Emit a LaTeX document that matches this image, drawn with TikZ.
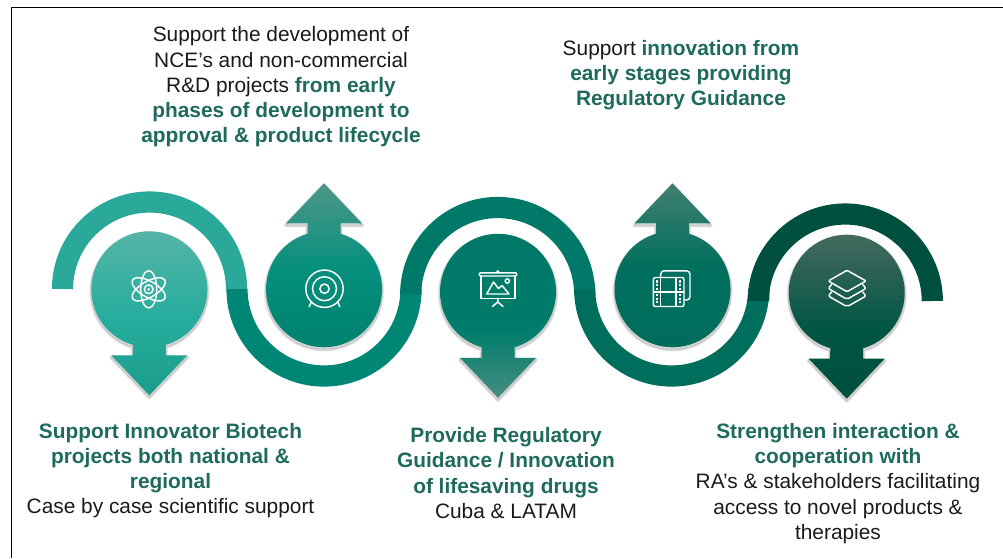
\documentclass[tikz,border=0pt]{standalone}
\usepackage{fontspec}
\setmainfont{Liberation Sans}
\definecolor{headgreen}{HTML}{1E6A5C}
\definecolor{bodyblack}{HTML}{1A1A1A}
\definecolor{arcA}{HTML}{2AA89A}
\definecolor{arcB}{HTML}{008674}
\definecolor{arcC}{HTML}{007969}
\definecolor{arcD}{HTML}{006E5D}
\definecolor{arcE}{HTML}{005040}
\definecolor{a1}{HTML}{1A9C8C}\definecolor{a2}{HTML}{27AD9E}\definecolor{a3}{HTML}{58B5A8}
\definecolor{b1}{HTML}{00806E}\definecolor{b2}{HTML}{05907D}\definecolor{b3}{HTML}{4E9688}
\definecolor{c1}{HTML}{468E81}\definecolor{c2}{HTML}{007C6B}\definecolor{c3}{HTML}{007766}
\definecolor{d1}{HTML}{006D5C}\definecolor{d2}{HTML}{006F5D}\definecolor{d3}{HTML}{417F72}
\definecolor{e1}{HTML}{004F3F}\definecolor{e2}{HTML}{005543}\definecolor{e3}{HTML}{4A6B61}
\pgfdeclareverticalshading{pinshadeA}{100bp}{color(0bp)=(a1); color(25bp)=(a1); color(48bp)=(a2); color(75bp)=(a3); color(100bp)=(a3)}
\pgfdeclareverticalshading{pinshadeB}{100bp}{color(0bp)=(b1); color(25bp)=(b1); color(50bp)=(b2); color(75bp)=(b3); color(100bp)=(b3)}
\pgfdeclareverticalshading{pinshadeC}{100bp}{color(0bp)=(c1); color(25bp)=(c1); color(45bp)=(c2); color(75bp)=(c3); color(100bp)=(c3)}
\pgfdeclareverticalshading{pinshadeD}{100bp}{color(0bp)=(d1); color(25bp)=(d1); color(50bp)=(d2); color(75bp)=(d3); color(100bp)=(d3)}
\pgfdeclareverticalshading{pinshadeE}{100bp}{color(0bp)=(e1); color(25bp)=(e1); color(45bp)=(e2); color(75bp)=(e3); color(100bp)=(e3)}
\tikzset{
  x=0.75pt,y=-0.75pt,
  ribbon/.style={line width=15.9pt},
  icon/.style={draw=white,line width=1.1pt,line join=round,line cap=round},
  lbl/.style={align=center,inner sep=0pt,text=bodyblack,font=\fontsize{15.65}{18.95}\selectfont},
}
\newcommand{\hd}[1]{\textcolor{headgreen}{\bfseries #1}}
\newcommand{\pinpathdown}[2]{(#1+16.5,#2+55.6) arc[start angle=-73.5,end angle=253.5,radius=43.5pt] -- (#1-16.5,#2+66) -- (#1-38,#2+66) -- (#1,#2+106) -- (#1+38,#2+66) -- (#1+16.5,#2+66) -- cycle}
\newcommand{\pinpathup}[2]{(#1+16.5,#2-55.6) arc[start angle=73.5,end angle=-253.5,radius=43.5pt] -- (#1-16.5,#2-66) -- (#1-38,#2-66) -- (#1,#2-106) -- (#1+38,#2-66) -- (#1+16.5,#2-66) -- cycle}
\newcommand{\softshadow}[1]{%
  \foreach \w in {4.6,3.6,2.6,1.6}{\draw[black,opacity=.055,line width=\w*0.75pt,line join=round,shift={(0,2)}] #1;}}
\begin{document}
\begin{tikzpicture}
\useasboundingbox (0,0) rectangle (1003,558);
% frame
\coordinate (frameA) at (11.5,558);
\coordinate (frameB) at (11.5,7.5);
\coordinate (frameC) at (1003,7.5);
\draw[black,line width=1pt] (frameA) -- (frameB) -- (frameC);
% ribbon
\draw[ribbon,arcA] (62.5,289) arc[start angle=180,end angle=0,radius=65.25pt];
\draw[ribbon,arcB] (237,289) arc[start angle=180,end angle=360,radius=65.25pt] -- (411,294);
\draw[ribbon,arcC] (410.7,294.5) arc[start angle=180,end angle=0,radius=65.25pt];
\draw[ribbon,arcD] (584.7,294) -- (584.7,289) arc[start angle=180,end angle=360,radius=65.25pt] -- (758.7,300);
\draw[ribbon,arcE] (758.3,301) arc[start angle=180,end angle=0,radius=65.25pt];
% pins
\softshadow{\pinpathdown{149.3}{289.3}}
\shade[shading=pinshadeA] \pinpathdown{149.3}{289.3};
\softshadow{\pinpathup{324}{289.3}}
\shade[shading=pinshadeB] \pinpathup{324}{289.3};
\softshadow{\pinpathdown{498}{291.8}}
\shade[shading=pinshadeC] \pinpathdown{498}{291.8};
\softshadow{\pinpathup{672.5}{289.3}}
\shade[shading=pinshadeD] \pinpathup{672.5}{289.3};
\softshadow{\pinpathdown{846.7}{292.7}}
\shade[shading=pinshadeE] \pinpathdown{846.7}{292.7};
% atom icon
\begin{scope}[shift={(148.7,289.3)}]
  \draw[icon] (0,0) circle[radius=3.3pt];
  \fill[white] (0,0) circle[radius=1.1pt];
  \foreach \a in {30,90,150}{\draw[icon,rotate=\a] (0,0) circle[x radius=14pt,y radius=6pt];}
\end{scope}
% target icon
\begin{scope}[shift={(324.5,288.7)}]
  \draw[icon] (0,0) circle[radius=14pt];
  \draw[icon] (0,0) circle[radius=9pt];
  \draw[icon] (0,0) circle[radius=3.5pt];
  \draw[icon] (-13,13) -- (-15.3,18);
  \draw[icon] (13,13) -- (15.3,18);
\end{scope}
% easel icon
\draw[icon,rounded corners=0.8pt] (479.3,272.8) rectangle (516.7,276);
\fill[white] (497.8,271.6) circle[radius=1.2pt];
\draw[icon] (481,276) -- (481,298.3) -- (515,298.3) -- (515,276);
\draw[icon] (497.8,298.3) -- (497.8,302) -- (492.5,306.5);
\draw[icon] (497.8,302) -- (503,306.5);
\draw[icon] (486.7,294) -- (493.5,282) -- (498.5,288.5) -- (502,285.5) -- (509,294) -- cycle;
\draw[icon] (507.3,281) circle[radius=1.6pt];
% film icon
\draw[icon,rounded corners=1.5pt] (653.3,277.5) rectangle (684,306.5);
\draw[icon,rounded corners=2.5pt] (660.7,277.5) -- (660.7,270.8) -- (690,270.8) -- (690,300) -- (684,300);
\draw[icon] (660.7,277.5) -- (660.7,306.5);
\draw[icon] (676,277.5) -- (676,306.5);
\draw[icon] (653.3,291.8) -- (684,291.8);
\foreach \px in {657,680.3}{\foreach \py in {281.5,285.2,288.8,295,298.6,302.2}{\fill[white] (\px-1.1,\py-1.1) rectangle (\px+1.1,\py+1.1);}}
% layers icon
\draw[icon,rounded corners=0.8pt] (847,270.3) -- (866,281) -- (847,291.7) -- (828.3,281) -- cycle;
\draw[icon,rounded corners=1.5pt] (831.5,284.5) -- (828.3,288.5) -- (847,299.3) -- (866,288.5) -- (862.8,284.5);
\draw[icon,rounded corners=1.5pt] (831.5,292) -- (828.3,296) -- (847,306.7) -- (866,296) -- (862.8,292);
% texts
\node[lbl] (t1) at (281,87) {Support the development of\\NCE’s and non-commercial\\R\&D projects \hd{from early}\\\hd{phases of development to}\\\hd{approval \& product lifecycle}};
\node[lbl] (t2) at (681,75) {Support \hd{innovation from}\\\hd{early stages providing}\\\hd{Regulatory Guidance}};
\node[lbl] (t3) at (170.5,470.5) {\hd{Support Innovator Biotech}\\\hd{projects both national \&}\\\hd{regional}\\Case by case scientific support};
\node[lbl] (t4) at (506,473) {\hd{Provide Regulatory}\\\hd{Guidance / Innovation}\\\hd{of lifesaving drugs}\\Cuba \& LATAM};
\node[lbl] (t5) at (838,483.5) {\hd{Strengthen interaction \&}\\\hd{cooperation with}\\RA’s \& stakeholders facilitating\\access to novel products \&\\therapies};
\end{tikzpicture}
\end{document}
